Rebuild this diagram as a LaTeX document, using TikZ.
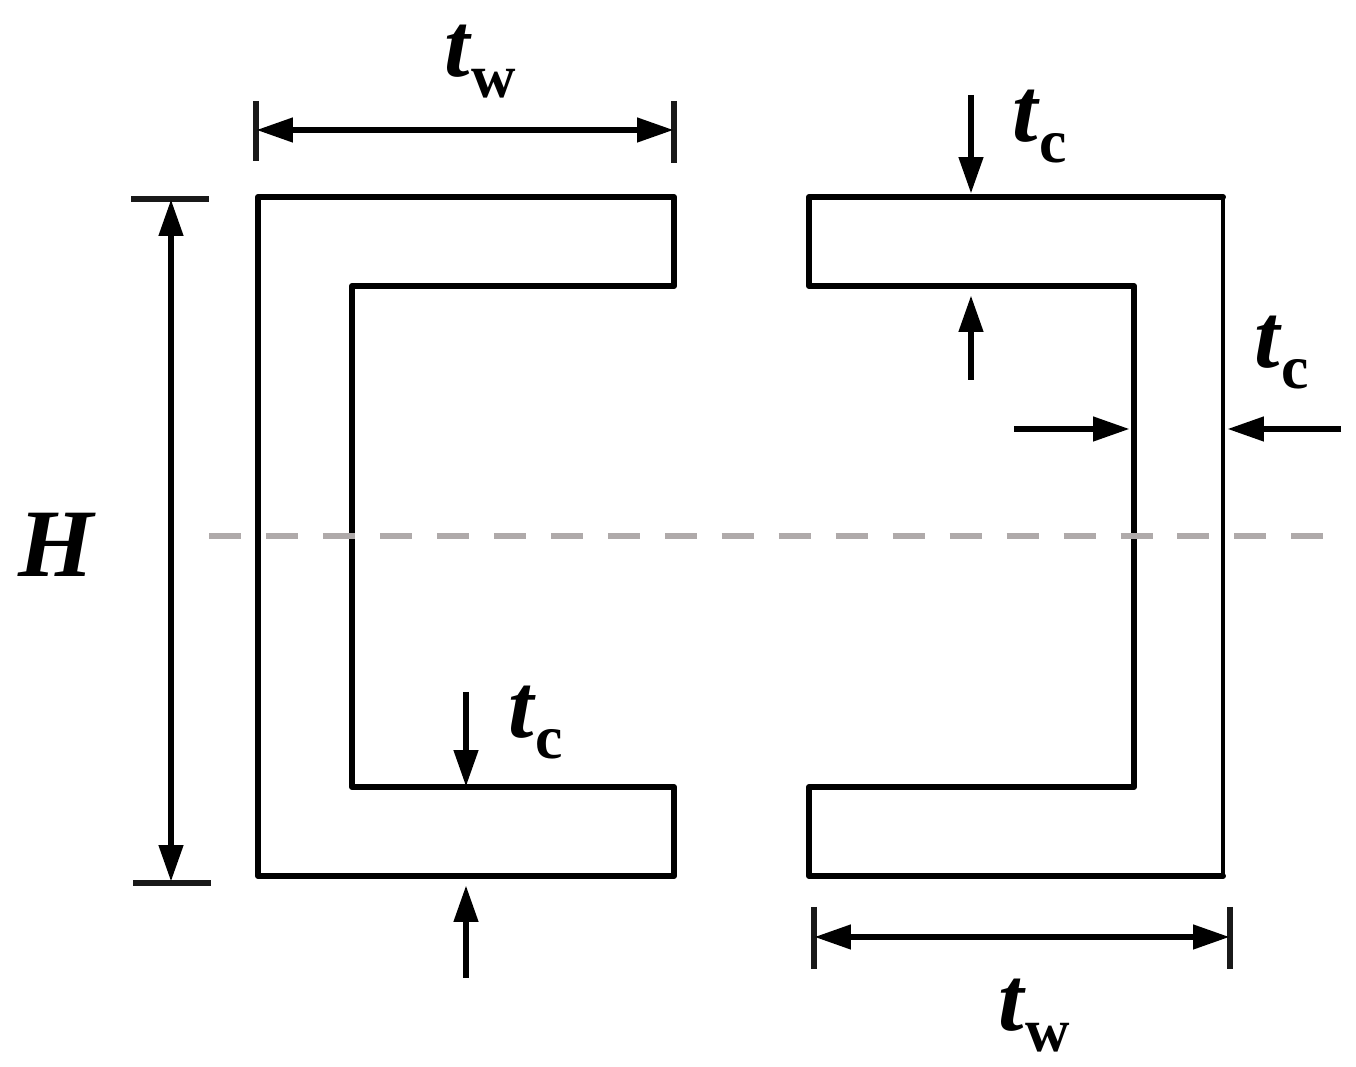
\documentclass[tikz,border=0pt]{standalone}
\usepackage{fontspec}
\setmainfont{Liberation Serif}
\usepackage{tikz}
\usetikzlibrary{positioning}
\usetikzlibrary{arrows.meta}

\begin{document}
\begin{tikzpicture}[x=0.01cm,y=-0.01cm,
	section line/.style={line width=1.7pt,line join=round,line cap=round,draw=black},
	dim line/.style={line width=1.9pt,draw=black,{Stealth[length=10.5pt,width=6.6pt,inset=0pt]}-{Stealth[length=10.5pt,width=6.6pt,inset=0pt]}},
	tick line/.style={line width=1.5pt,draw=black!90},
	push line/.style={line width=1.9pt,draw=black,-{Stealth[length=10.5pt,width=6.6pt,inset=0pt]}},
	axis line/.style={line width=1.7pt,draw={rgb,255:red,175;green,170;blue,170},dash pattern=on 9.1pt off 7.1pt},
	main label/.style={font=\bfseries\itshape\fontsize{26}{26}\selectfont,inner sep=0pt},
	sub label/.style={font=\bfseries\fontsize{17.5}{18}\selectfont,inner sep=0pt}]

	\useasboundingbox (0,0) rectangle (1356,1067);

	% left section
	\draw[section line] (674,197) -- (258,197) -- (258,876) -- (674,876) -- (674,787) -- (352,787) -- (352,286) -- (674,286) -- cycle;

	% right section
	\draw[section line] (1223,197) -- (809,197) -- (809,286) -- (1134,286) -- (1134,787) -- (809,787) -- (809,876) -- (1223,876);
	\draw[section line,line width=1.3pt] (1223,197) -- (1223,876);

	% centre line
	\coordinate (axis left) at (209,536);
	\coordinate (axis right) at (1324,536);
	\draw[axis line] (axis left) -- (axis right);

	% top width
	\coordinate (tw1 a) at (256,130);
	\coordinate (tw1 b) at (674,130);
	\coordinate (tw1 a top) at (256,101);
	\coordinate (tw1 a bot) at (256,161);
	\coordinate (tw1 b top) at (674,101);
	\coordinate (tw1 b bot) at (674,163);
	\draw[tick line] (tw1 a top) -- (tw1 a bot);
	\draw[tick line] (tw1 b top) -- (tw1 b bot);
	\draw[dim line] (tw1 a) -- (tw1 b);
	\node[main label] (t1) at (457,51) {t};
	\node[sub label] (s1) [right=0pt of t1.base east,anchor=base west,yshift=-6pt] {w};

	% bottom width
	\coordinate (tw2 a) at (814,937);
	\coordinate (tw2 b) at (1230,937);
	\coordinate (tw2 a top) at (814,907);
	\coordinate (tw2 a bot) at (814,969);
	\coordinate (tw2 b top) at (1230,907);
	\coordinate (tw2 b bot) at (1230,969);
	\draw[tick line] (tw2 a top) -- (tw2 a bot);
	\draw[tick line] (tw2 b top) -- (tw2 b bot);
	\draw[dim line] (tw2 a) -- (tw2 b);
	\node[main label] (t2) at (1011,1005) {t};
	\node[sub label] (s2) [right=0pt of t2.base east,anchor=base west,yshift=-6pt] {w};

	% height
	\coordinate (h top) at (171,199);
	\coordinate (h bot) at (171,882);
	\coordinate (h top a) at (131,199);
	\coordinate (h top b) at (209,199);
	\coordinate (h bot a) at (133,883);
	\coordinate (h bot b) at (211,883);
	\draw[tick line] (h top a) -- (h top b);
	\draw[tick line] (h bot a) -- (h bot b);
	\draw[dim line] (h top) -- (h bot);
	\node[main label,font=\bfseries\itshape\fontsize{27.5}{28}\selectfont] (H) at (56,545) {H};

	% flange, left section
	\coordinate (c1 from) at (466,692);
	\coordinate (c1 to) at (466,787);
	\coordinate (c2 from) at (466,978);
	\coordinate (c2 to) at (466,885);
	\draw[push line] (c1 from) -- (c1 to);
	\draw[push line] (c2 from) -- (c2 to);
	\node[main label] (t3) at (521,712) {t};
	\node[sub label] (s3) [right=0pt of t3.base east,anchor=base west,yshift=-6pt] {c};

	% flange, right section
	\coordinate (c3 from) at (971,95);
	\coordinate (c3 to) at (971,194);
	\coordinate (c4 from) at (971,380);
	\coordinate (c4 to) at (971,295);
	\draw[push line] (c3 from) -- (c3 to);
	\draw[push line] (c4 from) -- (c4 to);
	\node[main label] (t4) at (1025,116) {t};
	\node[sub label] (s4) [right=0pt of t4.base east,anchor=base west,yshift=-6pt] {c};

	% web, right section
	\coordinate (c5 from) at (1014,429);
	\coordinate (c5 to) at (1130,429);
	\coordinate (c6 from) at (1341,429);
	\coordinate (c6 to) at (1227,429);
	\draw[push line] (c5 from) -- (c5 to);
	\draw[push line] (c6 from) -- (c6 to);
	\node[main label] (t5) at (1267,342) {t};
	\node[sub label] (s5) [right=0pt of t5.base east,anchor=base west,yshift=-6pt] {c};

\end{tikzpicture}
\end{document}
